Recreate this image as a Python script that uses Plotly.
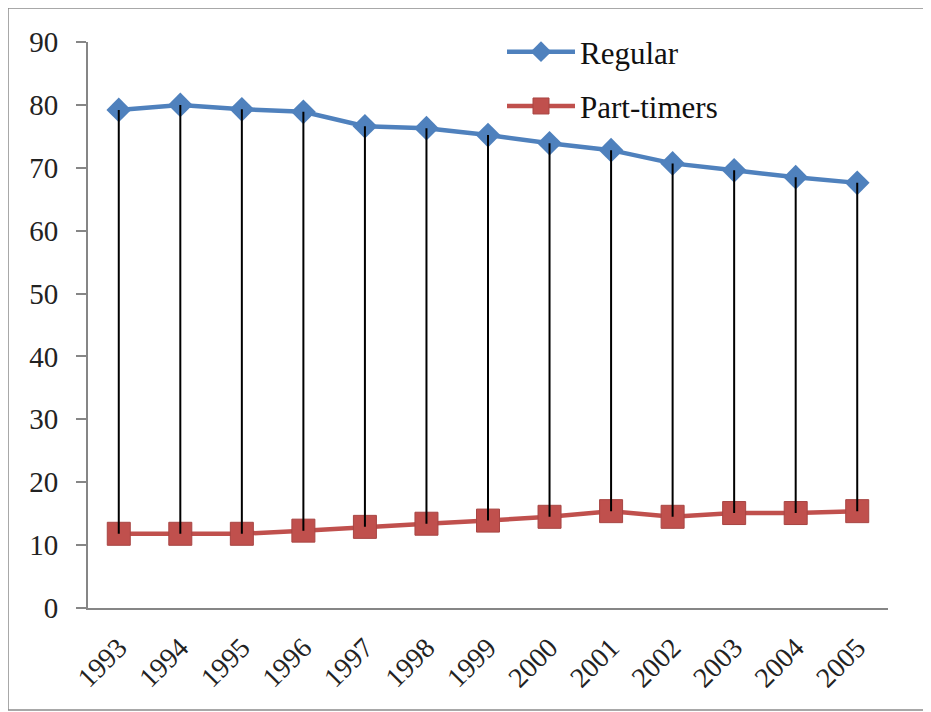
import plotly.graph_objects as go

years = ["1993", "1994", "1995", "1996", "1997", "1998", "1999",
         "2000", "2001", "2002", "2003", "2004", "2005"]
regular = [79.2, 80.0, 79.3, 78.9, 76.6, 76.3, 75.2, 73.9, 72.8, 70.7, 69.6, 68.5, 67.6]
part_timers = [11.8, 11.8, 11.8, 12.3, 12.9, 13.4, 13.9, 14.5, 15.4, 14.5, 15.1, 15.1, 15.4]
y_ticks = [0, 10, 20, 30, 40, 50, 60, 70, 80, 90]

FONT = "Liberation Serif"

# high-low lines between the two series
hx, hy = [], []
for yr, r, p in zip(years, regular, part_timers):
    hx += [yr, yr, None]
    hy += [r, p, None]

fig = go.Figure()
fig.add_trace(go.Scatter(
    x=years, y=regular, name="Regular", mode="lines+markers",
    line=dict(color="#4F81BD", width=4.5),
    marker=dict(symbol="diamond", size=19, color="#4F81BD"),
    legendgroup="a",
))
fig.add_trace(go.Scatter(
    x=years, y=part_timers, name="Part-timers", mode="lines+markers",
    line=dict(color="#C0504D", width=4.5),
    marker=dict(symbol="square", size=23, color="#C0504D",
                line=dict(color="#A84543", width=1)),
    legendgroup="b",
))
fig.add_trace(go.Scatter(
    x=hx, y=hy, mode="lines", showlegend=False, hoverinfo="skip",
    line=dict(color="black", width=2),
))

fig.update_layout(
    width=923, height=704,
    margin=dict(l=80, r=43, t=34, b=104),
    paper_bgcolor="white", plot_bgcolor="white",
    font=dict(family=FONT, size=28, color="#222"),
    showlegend=True,
    legend=dict(
        x=0.5175, y=1.03, xanchor="left", yanchor="top",
        font=dict(family=FONT, size=31, color="#111"),
        bgcolor="rgba(0,0,0,0)", tracegroupgap=11, traceorder="grouped",
        itemwidth=68,
    ),
    xaxis=dict(
        type="category", range=[-0.5, 12.5],
        tickangle=-45, ticks="outside", ticklen=10,
        tickcolor="rgba(0,0,0,0)", showgrid=False,
        showline=True, linecolor="#868686", linewidth=2,
        tickfont=dict(family=FONT, size=28, color="#222"),
    ),
    yaxis=dict(
        range=[0, 90], tickvals=y_ticks, showgrid=False, zeroline=False,
        showline=True, linecolor="#868686", linewidth=2,
        ticks="outside", ticklen=10, tickcolor="#868686", tickwidth=1.5,
        tickfont=dict(family=FONT, size=29, color="#222"),
        ticklabelstandoff=12,
    ),
    shapes=[dict(
        type="rect", xref="paper", yref="paper",
        x0=-0.1, x1=1.051, y0=-0.18, y1=1.06,
        line=dict(color="#8C8C8C", width=1.5), layer="below",
    )],
)

fig.write_html("out.html")
